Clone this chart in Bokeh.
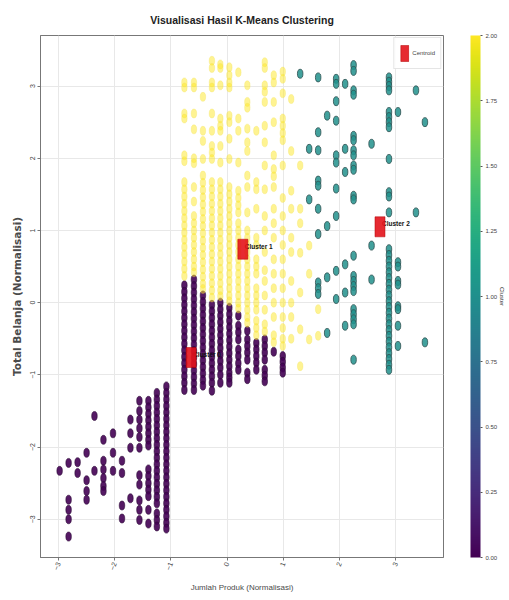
import math
from bokeh.plotting import figure
from bokeh.models import (LinearColorMapper, ColorBar, FixedTicker, LinearAxis,
                          Range1d, Legend, LegendItem, PrintfTickFormatter)
from bokeh.palettes import Viridis256
from bokeh.embed import file_html
from bokeh.resources import INLINE
from bokeh.core.properties import value

# ---------------- data ----------------
# Cluster 0 (purple): column x positions and the y values in each column
c0_cols = [-2.98, -2.82, -2.66, -2.50, -2.36, -2.20, -2.03, -1.87, -1.72, -1.56, -1.40, -1.25, -1.08,
           -0.76, -0.59, -0.43, -0.27, -0.12, 0.04, 0.20, 0.36, 0.52, 0.67, 0.83, 0.99]
c0_ys = [
    [-2.33],
    [-2.22, -2.73, -2.87, -3.00, -3.24],
    [-2.21, -2.36],
    [-2.08, -2.46, -2.61, -2.73],
    [-1.57, -2.33],
    [-1.90, -2.19, -2.31, -2.43, -2.54, -2.61],
    [-1.81, -2.08, -2.33],
    [-2.19, -2.36, -2.81, -2.99],
    [-1.62, -1.81, -2.01, -2.71],
    [-1.36, -1.50, -1.62, -1.74, -1.86, -2.01, -2.39, -2.52, -2.74, -2.87, -3.01],
    [-1.36, -1.45, -1.54, -1.63, -1.72, -1.81, -1.90, -1.98, -2.31, -2.40, -2.50, -2.59, -2.68, -2.87, -3.06],
    [-1.25, -1.34, -1.43, -1.52, -1.61, -1.70, -1.79, -1.88, -1.97, -2.06, -2.15, -2.24, -2.33, -2.42,
     -2.51, -2.60, -2.69, -2.78, -2.92, -3.01, -3.10],
    [-1.16, -1.25, -1.34, -1.43, -1.52, -1.61, -1.70, -1.79, -1.88, -1.97, -2.06, -2.15, -2.24, -2.33,
     -2.42, -2.51, -2.60, -2.69, -2.78, -2.87, -2.96, -3.05, -3.13],
    [0.24, 0.15, 0.06, -0.03, -0.12, -0.21, -0.30, -0.39, -0.48, -0.57, -0.66, -0.75, -0.84, -0.93,
     -1.02, -1.11, -1.21],
    [0.32, 0.23, 0.14, 0.05, -0.04, -0.13, -0.22, -0.31, -0.40, -0.49, -0.58, -0.67, -0.76, -0.85,
     -0.94, -1.03, -1.12, -1.21],
    [0.10, 0.01, -0.08, -0.17, -0.26, -0.35, -0.44, -0.53, -0.62, -0.71, -0.80, -0.89, -0.98, -1.07, -1.15],
    [-0.03, -0.12, -0.21, -0.30, -0.39, -0.48, -0.57, -0.66, -0.75, -0.84, -0.93, -1.02, -1.11, -1.22],
    [0.00, -0.09, -0.18, -0.27, -0.36, -0.45, -0.54, -0.63, -0.72, -0.81, -0.90, -1.00, -1.11],
    [-0.07, -0.16, -0.25, -0.34, -0.43, -0.52, -0.61, -0.70, -0.79, -0.88, -0.97, -1.04, -1.11],
    [-0.18, -0.32, -0.41, -0.51, -0.65, -0.74, -0.84, -0.93],
    [-0.39, -0.51, -0.60, -0.69, -0.79, -0.97, -1.06],
    [-0.56, -0.65, -0.74, -0.83, -0.93],
    [-0.51, -0.60, -0.69, -0.79, -0.93, -1.01, -1.09],
    [-0.68],
    [-0.74, -0.82, -0.90, -0.97],
]

# Cluster 1 (yellow)
c1_cols = [-0.76, -0.59, -0.43, -0.27, -0.12, 0.04, 0.20, 0.36, 0.52, 0.67, 0.83, 0.99, 1.14, 1.30, 1.46, 1.62]
c1_ys = [
    [3.05, 2.98, 2.62, 2.55, 2.04, 1.96, 1.67, 1.57, 1.47, 1.37, 1.27, 1.17, 1.07, 0.97, 0.87, 0.77,
     0.67, 0.57, 0.47, 0.37],
    [3.05, 2.98, 2.62, 2.40, 2.00, 1.93, 1.60, 1.40, 1.20, 1.10, 1.00, 0.90, 0.80, 0.70, 0.60, 0.50, 0.42],
    [2.85, 2.38, 2.24, 1.99, 1.76, 1.66, 1.56, 1.46, 1.36, 1.26, 1.16, 1.06, 0.96, 0.86, 0.76, 0.66,
     0.56, 0.46, 0.36, 0.26, 0.19],
    [3.35, 3.25, 3.05, 2.98, 2.62, 2.38, 2.17, 2.08, 1.99, 1.67, 1.57, 1.47, 1.37, 1.27, 1.17, 1.07,
     0.97, 0.87, 0.77, 0.67, 0.57, 0.47, 0.37, 0.27, 0.17, 0.07],
    [3.30, 3.25, 3.01, 2.55, 2.45, 2.38, 2.17, 1.94, 1.67, 1.57, 1.47, 1.37, 1.27, 1.17, 1.07, 0.97,
     0.87, 0.77, 0.67, 0.57, 0.47, 0.37, 0.27, 0.17, 0.09],
    [3.26, 3.15, 3.05, 2.98, 2.59, 2.50, 2.27, 1.99, 1.60, 1.50, 1.40, 1.30, 1.20, 1.10, 1.00, 0.90,
     0.80, 0.70, 0.60, 0.50, 0.40, 0.30, 0.20, 0.10, 0.02],
    [3.19, 2.55, 2.38, 1.94, 1.55, 1.45, 1.35, 1.25, 1.10, 1.00, 0.90, 0.80, 0.70, 0.60, 0.50, 0.40,
     0.30, 0.20, 0.10, 0.00, -0.08],
    [3.01, 2.78, 2.70, 2.41, 2.22, 2.10, 1.76, 1.60, 1.25, 1.00, 0.90, 0.80, 0.70, 0.60, 0.50, 0.40,
     0.30, 0.20, 0.10, 0.00, -0.10, -0.20, -0.28],
    [2.38, 1.67, 1.57, 1.30, 0.90, 0.80, 0.60, 0.50, 0.40, 0.20, 0.10, 0.00, -0.10, -0.25, -0.35, -0.45],
    [3.33, 3.25, 3.01, 2.92, 2.78, 2.45, 2.22, 1.90, 1.57, 1.20, 1.00, 0.70, 0.45, 0.30, 0.10, -0.10,
     -0.30, -0.40],
    [3.15, 3.05, 2.78, 2.50, 2.04, 1.85, 1.75, 1.60, 1.30, 1.10, 0.90, 0.60, 0.40, 0.20, 0.00, -0.20,
     -0.45, -0.55],
    [3.20, 3.10, 2.90, 2.55, 2.45, 2.35, 2.25, 1.90, 1.45, 1.20, 1.00, 0.80, 0.60, 0.40, 0.20, 0.00,
     -0.20, -0.35, -0.50, -0.60],
    [2.82, 2.10, 1.55, 1.30, 0.90, 0.70, 0.30, 0.00, -0.20, -0.50],
    [1.90, 1.30, 1.10, 0.69, 0.14, -0.37, -0.88],
    [0.79, 0.40, -0.51],
    [-0.09, -0.46],
]

# Cluster 2 (teal)
c2_cols = [1.30, 1.46, 1.62, 1.78, 1.94, 2.10, 2.25, 2.57, 2.88, 3.04, 3.36, 3.52]
c2_ys = [
    [3.17],
    [2.13, 1.43],
    [3.12, 2.36, 2.11, 1.69, 1.62, 1.30, 0.95, 0.28, 0.20, 0.12],
    [2.59, 1.06, 0.35, -0.42],
    [3.10, 3.03, 2.79, 2.52, 2.04, 1.94, 1.58, 1.20, 0.44, 0.05],
    [3.03, 2.13, 1.81, 0.53, 0.14, -0.32],
    [3.29, 3.21, 2.94, 2.88, 2.31, 2.25, 2.11, 2.04, 1.90, 1.84, 1.48, 1.43, 0.65, 0.37, 0.30, 0.23,
     0.16, -0.09, -0.16, -0.23, -0.30, -0.79],
    [2.20, 0.79, 0.32],
    [3.12, 3.06, 3.00, 2.94, 2.64, 2.57, 2.50, 2.43, 1.99, 1.53, 1.47, 1.25, 0.74, 0.66, 0.58, 0.50,
     0.42, 0.34, 0.26, 0.18, 0.10, 0.02, -0.06, -0.14, -0.22, -0.30, -0.38, -0.46, -0.54, -0.62,
     -0.70, -0.78, -0.86, -0.93],
    [2.64, 0.56, 0.50, 0.30, 0.25, -0.05, -0.09, -0.32, -0.60],
    [2.94, 1.25],
    [2.50, -0.55],
]

centroid_x = [-0.64, 0.28, 2.72]
centroid_y = [-0.76, 0.74, 1.05]
centroid_labels = ["Cluster 0", "Cluster 1", "Cluster 2"]

x_ticks = [-3, -2, -1, 0, 1, 2, 3]
y_ticks = [-3, -2, -1, 0, 1, 2, 3]
cbar_ticks = [0.0, 0.25, 0.5, 0.75, 1.0, 1.25, 1.5, 1.75, 2.0]

cluster_colors = ["#440154", "#21918c", "#fde725"]


def flatten(cols, ys):
    xs_out, ys_out = [], []
    for cx, col in zip(cols, ys):
        for yy in col:
            xs_out.append(cx)
            ys_out.append(yy)
    return xs_out, ys_out


X0, X1 = -3.32, 3.85
Y0, Y1 = -3.53, 3.70

# ---------------- figure ----------------
p = figure(width=509, height=600, output_backend="svg", toolbar_location=None,
           x_range=Range1d(X0, X1), y_range=Range1d(Y0, Y1),
           min_border_left=40, min_border_right=66, min_border_top=35, min_border_bottom=43,
           background_fill_color="white", border_fill_color="white")

p.title.text = "Visualisasi Hasil K-Means Clustering"
p.title.align = "center"
p.title.text_font = "Liberation Sans"
p.title.text_font_size = "10.5px"
p.title.text_font_style = "bold"
p.title.text_color = "#222222"
p.title.standoff = 19

p.outline_line_color = "#777777"
p.grid.grid_line_color = "#e8e8e8"
p.xaxis.ticker = FixedTicker(ticks=x_ticks)
p.yaxis.ticker = FixedTicker(ticks=y_ticks)
for ax in (p.xaxis, p.yaxis):
    ax.axis_line_color = "#777777"
    ax.major_tick_line_color = "#777777"
    ax.major_tick_out = 3
    ax.major_tick_in = 0
    ax.minor_tick_line_color = None
    ax.major_label_text_font = "Liberation Sans"
    ax.major_label_text_font_size = "7px"
    ax.major_label_text_color = "#444444"
    ax.major_label_standoff = 2
    ax.axis_label_text_color = "#4a4a4a"
p.xaxis.major_label_orientation = 1.2
p.yaxis.major_label_orientation = "vertical"
p.xaxis.axis_label = "Jumlah Produk (Normalisasi)"
p.xaxis.axis_label_text_font = "Liberation Sans"
p.xaxis.axis_label_text_font_size = "8px"
p.xaxis.axis_label_text_font_style = "normal"
p.xaxis.axis_label_standoff = 8
p.yaxis.axis_label = "Total Belanja (Normalisasi)"
p.yaxis.axis_label_text_font = "DejaVu Sans"
p.yaxis.axis_label_text_font_size = "10.5px"
p.yaxis.axis_label_text_font_style = "bold"
p.yaxis.axis_label_standoff = 5

# points
x0, y0 = flatten(c0_cols, c0_ys)
x1, y1 = flatten(c1_cols, c1_ys)
x2, y2 = flatten(c2_cols, c2_ys)

p.ellipse(x=x0, y=y0, width=5.5, height=9, width_units="screen", height_units="screen",
          fill_color=cluster_colors[0], fill_alpha=0.9, line_color="#2b0a36", line_width=0.6)
p.ellipse(x=x2, y=y2, width=5.5, height=9, width_units="screen", height_units="screen",
          fill_color=cluster_colors[1], fill_alpha=0.85, line_color="#2f4f4f", line_width=0.8)
p.ellipse(x=x1, y=y1, width=5.5, height=9, width_units="screen", height_units="screen",
          fill_color=cluster_colors[2], fill_alpha=0.5, line_color="#f0e050", line_alpha=0.5,
          line_width=0.6)

# centroid labels (drawn below the markers)
p.text(x=centroid_x, y=centroid_y, text=centroid_labels, x_offset=2, y_offset=-3,
       text_font=value("Liberation Sans"), text_font_size="6.5px", text_font_style="bold",
       text_color="#111111", text_baseline="middle", text_align="left")

cent = p.rect(x=centroid_x, y=centroid_y, width=10, height=20, width_units="screen",
              height_units="screen", fill_color="#e3131b", fill_alpha=0.9, line_color="#b00000",
              line_width=0.5)

legend = Legend(items=[LegendItem(label="Centroid", renderers=[cent])], location="top_right",
                margin=2, padding=5, glyph_width=10, glyph_height=20, label_standoff=3,
                label_text_font="Liberation Sans", label_text_font_size="6px",
                border_line_color="#cccccc", background_fill_alpha=0.9)
p.add_layout(legend)

# colour bar, placed to the right of the frame (frame is 403 px wide)
mapper = LinearColorMapper(palette=Viridis256, low=0, high=2)
cb = ColorBar(color_mapper=mapper, ticker=FixedTicker(ticks=cbar_ticks),
              formatter=PrintfTickFormatter(format="%.2f"), width=10, height=522,
              location=(430, 0), padding=0, margin=0,
              major_label_text_font_size="6px", major_label_text_font="Liberation Sans",
              label_standoff=3, major_tick_out=2, major_tick_in=0,
              major_tick_line_color="#555555", bar_line_color=None,
              background_fill_alpha=0)
p.add_layout(cb)

# colour bar label: an empty right axis that only carries the rotated label "Cluster"
cb_label_axis = LinearAxis(ticker=FixedTicker(ticks=[]), axis_label="Cluster",
                           axis_line_color=None, major_tick_line_color=None,
                           minor_tick_line_color=None, major_label_text_color=None,
                           axis_label_standoff=55, axis_label_text_font="Liberation Sans",
                           axis_label_text_font_size="6px", axis_label_text_font_style="normal",
                           axis_label_text_color="#333333")
p.add_layout(cb_label_axis, "right")

open("out.html", "w").write(file_html(p, INLINE))
